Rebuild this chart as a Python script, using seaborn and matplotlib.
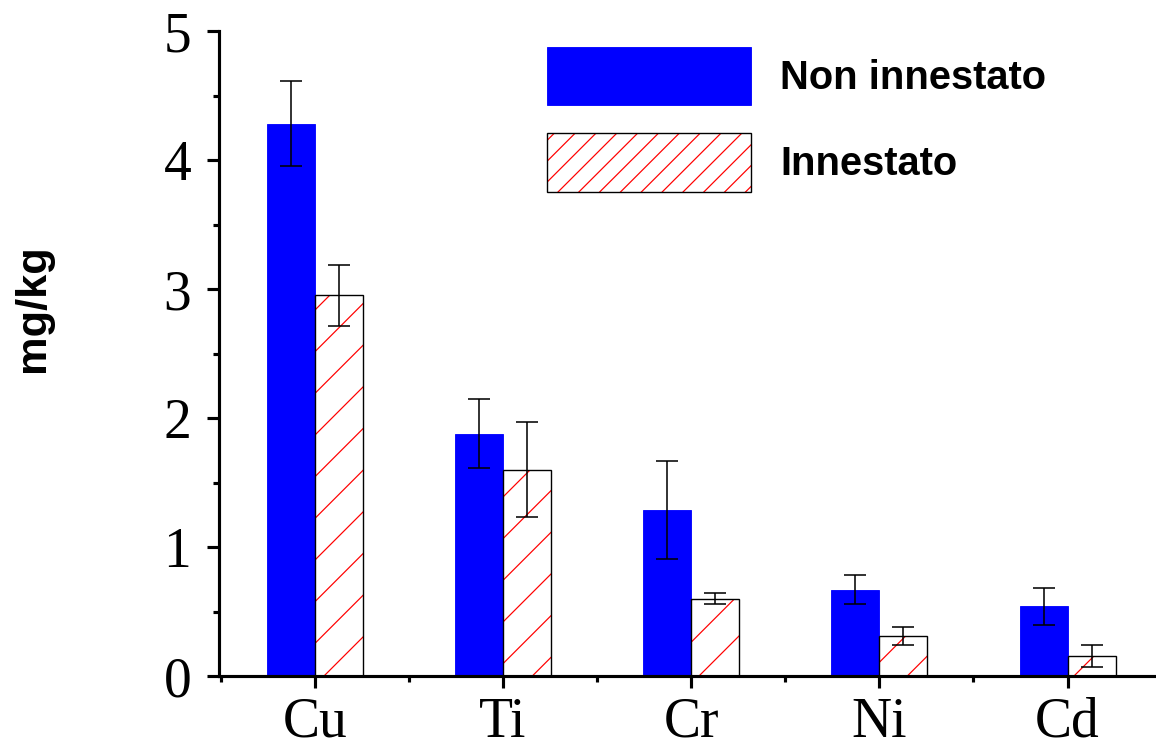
import pandas as pd
import numpy as np
import matplotlib
matplotlib.use('Agg')
import matplotlib.pyplot as plt
import seaborn as sns
from matplotlib.patches import Patch, Rectangle
from matplotlib.ticker import MultipleLocator

# Data
metals = ['Cu', 'Ti', 'Cr', 'Ni', 'Cd']
groups = ['Non innestato', 'Innestato']
non_innestato = [4.28, 1.88, 1.29, 0.67, 0.54]
non_innestato_err = [0.33, 0.27, 0.38, 0.115, 0.145]
innestato = [2.95, 1.60, 0.60, 0.31, 0.155]
innestato_err = [0.24, 0.37, 0.045, 0.07, 0.085]

df = pd.DataFrame({
    'metal': metals * 2,
    'group': [groups[0]] * len(metals) + [groups[1]] * len(metals),
    'value': non_innestato + innestato,
})
errs = [non_innestato_err, innestato_err]

sns.set_theme(style='ticks')
plt.rcParams['hatch.linewidth'] = 0.7
plt.rcParams['text.color'] = 'black'
plt.rcParams['axes.labelcolor'] = 'black'
plt.rcParams['xtick.color'] = 'black'
plt.rcParams['ytick.color'] = 'black'

fig, ax = plt.subplots(figsize=(9.248, 5.976), dpi=125)
fig.subplots_adjust(left=0.1894, right=1.0, bottom=0.095, top=0.9585)

sns.barplot(data=df, x='metal', y='value', hue='group', hue_order=groups,
            palette=['#0000ff', 'white'], saturation=1, width=0.51, gap=0,
            errorbar=None, legend=False, ax=ax)

# blue bars: no visible edge
for p in ax.containers[0]:
    p.set_edgecolor('#0000ff')
    p.set_linewidth(0.5)

# hatched bars: red hatch, black outline
for p in ax.containers[1]:
    p.set_hatch('/')
    p.set_facecolor('white')
    if hasattr(p, 'set_hatchcolor'):
        p.set_edgecolor('black')
        p.set_hatchcolor('red')
        p.set_linewidth(0.8)
    else:
        p.set_edgecolor('red')
        p.set_linewidth(0)
        ax.add_patch(Rectangle(p.get_xy(), p.get_width(), p.get_height(),
                               facecolor='none', edgecolor='black', lw=0.8,
                               zorder=p.get_zorder() + 0.1))

# error bars at bar centres
for cont, err in zip(ax.containers[:2], errs):
    xs = [p.get_x() + p.get_width() / 2 for p in cont]
    ys = [p.get_height() for p in cont]
    ax.errorbar(xs, ys, yerr=err, fmt='none', ecolor='black', elinewidth=0.9,
                capsize=6.5, capthick=0.9, zorder=5)

ax.set_ylim(0, 5)
ax.set_xlim(-0.51, 4.47)
ax.yaxis.set_major_locator(MultipleLocator(1))
ax.yaxis.set_minor_locator(MultipleLocator(0.5))
ax.xaxis.set_minor_locator(MultipleLocator(1, offset=0.5))

for s in ['top', 'right']:
    ax.spines[s].set_visible(False)
for s in ['left', 'bottom']:
    ax.spines[s].set_linewidth(1.8)
    ax.spines[s].set_color('black')

ax.tick_params(which='major', direction='out', length=7, width=1.8, color='black', labelcolor='black')
ax.tick_params(which='minor', direction='out', length=3.5, width=1.8, color='black')
ax.tick_params(axis='y', which='major', pad=9)
ax.tick_params(axis='x', which='major', pad=5)

for lab in ax.get_yticklabels() + ax.get_xticklabels():
    lab.set_fontfamily('Liberation Serif')
    lab.set_fontsize(32)
    lab.set_color('black')

ax.set_xlabel('')
ax.set_ylabel('mg/kg', fontsize=25, fontweight='bold', family='Liberation Sans', color='black')
ax.yaxis.set_label_coords(-0.177, 0.571)

# legend: solid blue and red-hatched box with black outline
h_blue = Patch(facecolor='#0000ff', edgecolor='#0000ff', lw=0.5)
h_hatch = (Patch(facecolor='white', edgecolor='red', hatch='//', lw=0),
           Patch(facecolor='none', edgecolor='black', lw=0.8))
leg = fig.legend([h_blue, h_hatch], groups, loc='upper left',
                 bbox_to_anchor=(547 / 1156, 1 - 47 / 747),
                 frameon=False, borderpad=0, borderaxespad=0, handlelength=5.1,
                 handleheight=1.87, handletextpad=0.74, labelspacing=0.7,
                 prop={'family': 'Liberation Sans', 'weight': 'bold', 'size': 23})
for t in leg.get_texts():
    t.set_color('black')

fig.savefig('out.png', dpi=125)
